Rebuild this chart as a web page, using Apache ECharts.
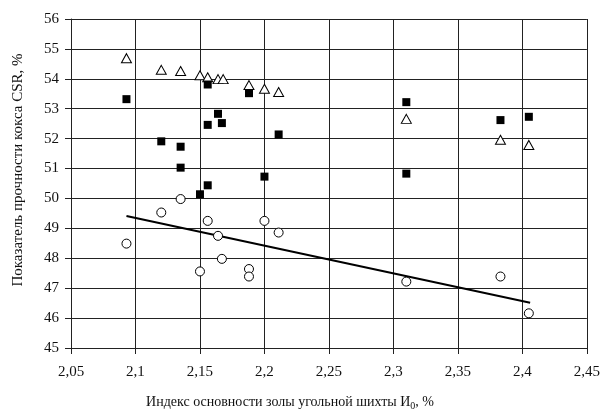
<!DOCTYPE html>
<html>
<head>
<meta charset="utf-8">
<script src="https://cdn.jsdelivr.net/npm/echarts@6/dist/echarts.min.js"></script>
<style>
  html, body { margin: 0; padding: 0; background: #fff; }
  #chart { width: 603px; height: 419px; }
</style>
</head>
<body>
<div id="chart"></div>
<script>
// треугольники (верхняя группа)
var triX = [2.093, 2.120, 2.135, 2.150, 2.156, 2.164, 2.168, 2.188, 2.200, 2.211, 2.310, 2.383, 2.405];
var triY = [54.69, 54.30, 54.26, 54.12, 54.05, 53.99, 53.99, 53.79, 53.67, 53.56, 52.66, 51.96, 51.79];

// квадраты (CSR)
var sqX = [2.093, 2.156, 2.188, 2.164, 2.156, 2.167, 2.211, 2.120, 2.135, 2.135, 2.200, 2.156, 2.150, 2.310, 2.383, 2.405, 2.310];
var sqY = [53.32, 53.81, 53.52, 52.83, 52.46, 52.52, 52.14, 51.91, 51.73, 51.03, 50.73, 50.44, 50.14, 53.22, 52.62, 52.73, 50.83];

// кружки (нижняя группа)
var circX = [2.135, 2.120, 2.093, 2.156, 2.200, 2.211, 2.164, 2.167, 2.150, 2.188, 2.188, 2.310, 2.383, 2.405];
var circY = [49.98, 49.53, 48.49, 49.25, 49.25, 48.86, 48.75, 47.98, 47.56, 47.64, 47.39, 47.22, 47.39, 46.16];

// линия тренда
var trendX = [2.093, 2.406];
var trendY = [49.41, 46.51];

function pairs(xs, ys) {
  return xs.map(function (x, i) { return [x, ys[i]]; });
}

var font = '"Liberation Serif", "Times New Roman", serif';

var option = {
  backgroundColor: '#fff',
  animation: false,
  grid: { left: 71, top: 19, right: 16, bottom: 71 },
  xAxis: {
    type: 'value',
    min: 2.05,
    max: 2.45,
    interval: 0.05,
    axisLine: { show: true, lineStyle: { color: '#222', width: 1 } },
    axisTick: { show: true, length: 6, lineStyle: { color: '#222' } },
    axisLabel: {
      margin: 17,
      color: '#111',
      fontFamily: font,
      fontSize: 15,
      formatter: function (v) { return String(+v.toFixed(2)).replace('.', ','); }
    },
    splitLine: { show: true, lineStyle: { color: '#222', width: 1 } }
  },
  yAxis: {
    type: 'value',
    min: 45,
    max: 56,
    interval: 1,
    axisLine: { show: true, lineStyle: { color: '#222', width: 1 } },
    axisTick: { show: true, length: 6, lineStyle: { color: '#222' } },
    axisLabel: { margin: 12, color: '#111', fontFamily: font, fontSize: 15 },
    splitLine: { show: true, lineStyle: { color: '#222', width: 1 } }
  },
  graphic: [
    {
      type: 'text',
      x: 18, y: 170,
      rotation: Math.PI / 2,
      style: {
        text: 'Показатель прочности кокса CSR, %',
        fill: '#111',
        font: '15px ' + font,
        align: 'center',
        verticalAlign: 'middle'
      }
    },
    {
      type: 'text',
      x: 290, y: 402,
      style: {
        text: '{a|Индекс основности золы угольной шихты И}{s|0}{a|, %}',
        fill: '#111',
        align: 'center',
        verticalAlign: 'middle',
        rich: {
          a: { fontSize: 14, fontFamily: font, fill: '#111', lineHeight: 18 },
          s: { fontSize: 10, fontFamily: font, fill: '#111', verticalAlign: 'bottom', lineHeight: 12, padding: [6, 0, 0, 0] }
        }
      }
    }
  ],
  series: [
    {
      type: 'line',
      data: pairs(trendX, trendY),
      symbol: 'none',
      lineStyle: { color: '#000', width: 2 },
      z: 1
    },
    {
      type: 'scatter',
      data: pairs(triX, triY),
      symbol: 'triangle',
      symbolSize: [10, 9],
      itemStyle: { color: '#fff', borderColor: '#000', borderWidth: 1, opacity: 1 },
      z: 3
    },
    {
      type: 'scatter',
      data: pairs(sqX, sqY),
      symbol: 'rect',
      symbolSize: 8,
      itemStyle: { color: '#000', borderColor: '#000', borderWidth: 0, opacity: 1 },
      z: 4
    },
    {
      type: 'scatter',
      data: pairs(circX, circY),
      symbol: 'circle',
      symbolSize: 9,
      itemStyle: { color: '#fff', borderColor: '#000', borderWidth: 1, opacity: 1 },
      z: 3
    }
  ]
};

var chart = echarts.init(document.getElementById('chart'));
chart.setOption(option);
</script>
</body>
</html>
